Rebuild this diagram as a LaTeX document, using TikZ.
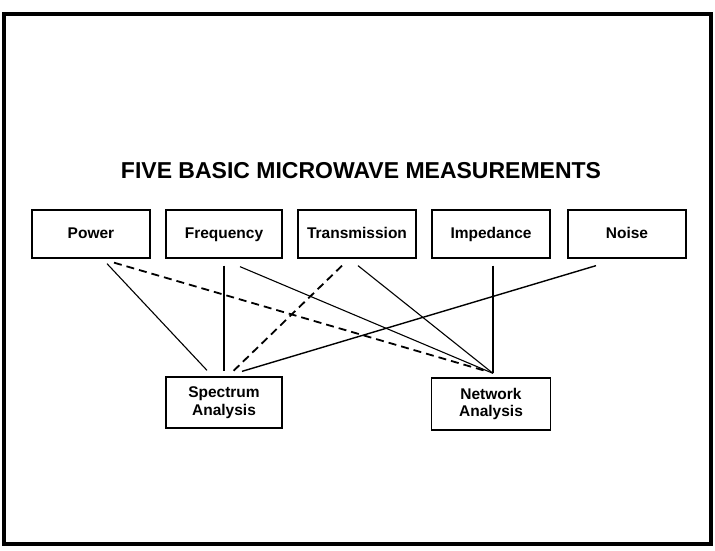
\documentclass[tikz,border=0pt]{standalone}
\usepackage{fontspec}
\setmainfont{Liberation Sans}
\begin{document}
\begin{tikzpicture}[x=1pt,y=-1pt,
  box/.style={draw, line width=1.3pt, minimum width=118pt, minimum height=48pt, inner sep=0pt,
    font=\fontsize{15.5}{17.5}\selectfont\bfseries, align=center},
  topbox/.style={box, text height=11pt, text depth=3pt},
  link/.style={line width=1.1pt},
  dlink/.style={line width=1.8pt, dash pattern=on 8pt off 5pt}]
\useasboundingbox (0,0) rectangle (715,550);
\draw[line width=3.5pt] (4,14) rectangle (711,544);
\node[font=\fontsize{23}{26}\selectfont\bfseries] (title) at (361,171) {FIVE BASIC MICROWAVE MEASUREMENTS};
\node[topbox] (power) at (91,234) {Power};
\node[topbox, minimum width=116pt] (freq) at (224,234) {Frequency};
\node[topbox] (trans) at (357,234) {Transmission};
\node[topbox] (imp) at (491,234) {Impedance};
\node[topbox] (noise) at (627,234) {Noise};
\node[box, minimum width=116pt, minimum height=51pt] (spec) at (224,402.5) {Spectrum\\Analysis};
\node[box, minimum width=119pt, minimum height=52pt] (net) at (491,404) {Network\\Analysis};
\draw[link] ([xshift=16pt,yshift=-5pt]power.south) -- ([xshift=-17pt,yshift=6pt]spec.north);
\draw[dlink] ([xshift=23pt,yshift=-4pt]power.south) -- ([xshift=-4pt,yshift=6pt]net.north);
\draw[link] ([yshift=-7pt]freq.south) -- ([yshift=5pt]spec.north);
\draw[link] ([xshift=16pt,yshift=-8pt]freq.south) -- ([xshift=2pt,yshift=4pt]net.north);
\draw[dlink] ([xshift=-15pt,yshift=-7pt]trans.south) -- ([xshift=9pt,yshift=5pt]spec.north);
\draw[link] ([xshift=1pt,yshift=-7pt]trans.south) -- ([xshift=2pt,yshift=4pt]net.north);
\draw[link] ([xshift=2pt,yshift=-7pt]imp.south) -- ([xshift=2pt,yshift=4pt]net.north);
\draw[link, line width=1.4pt] ([xshift=-31pt,yshift=-7pt]noise.south) -- ([xshift=18pt,yshift=5pt]spec.north);
\end{tikzpicture}
\end{document}
